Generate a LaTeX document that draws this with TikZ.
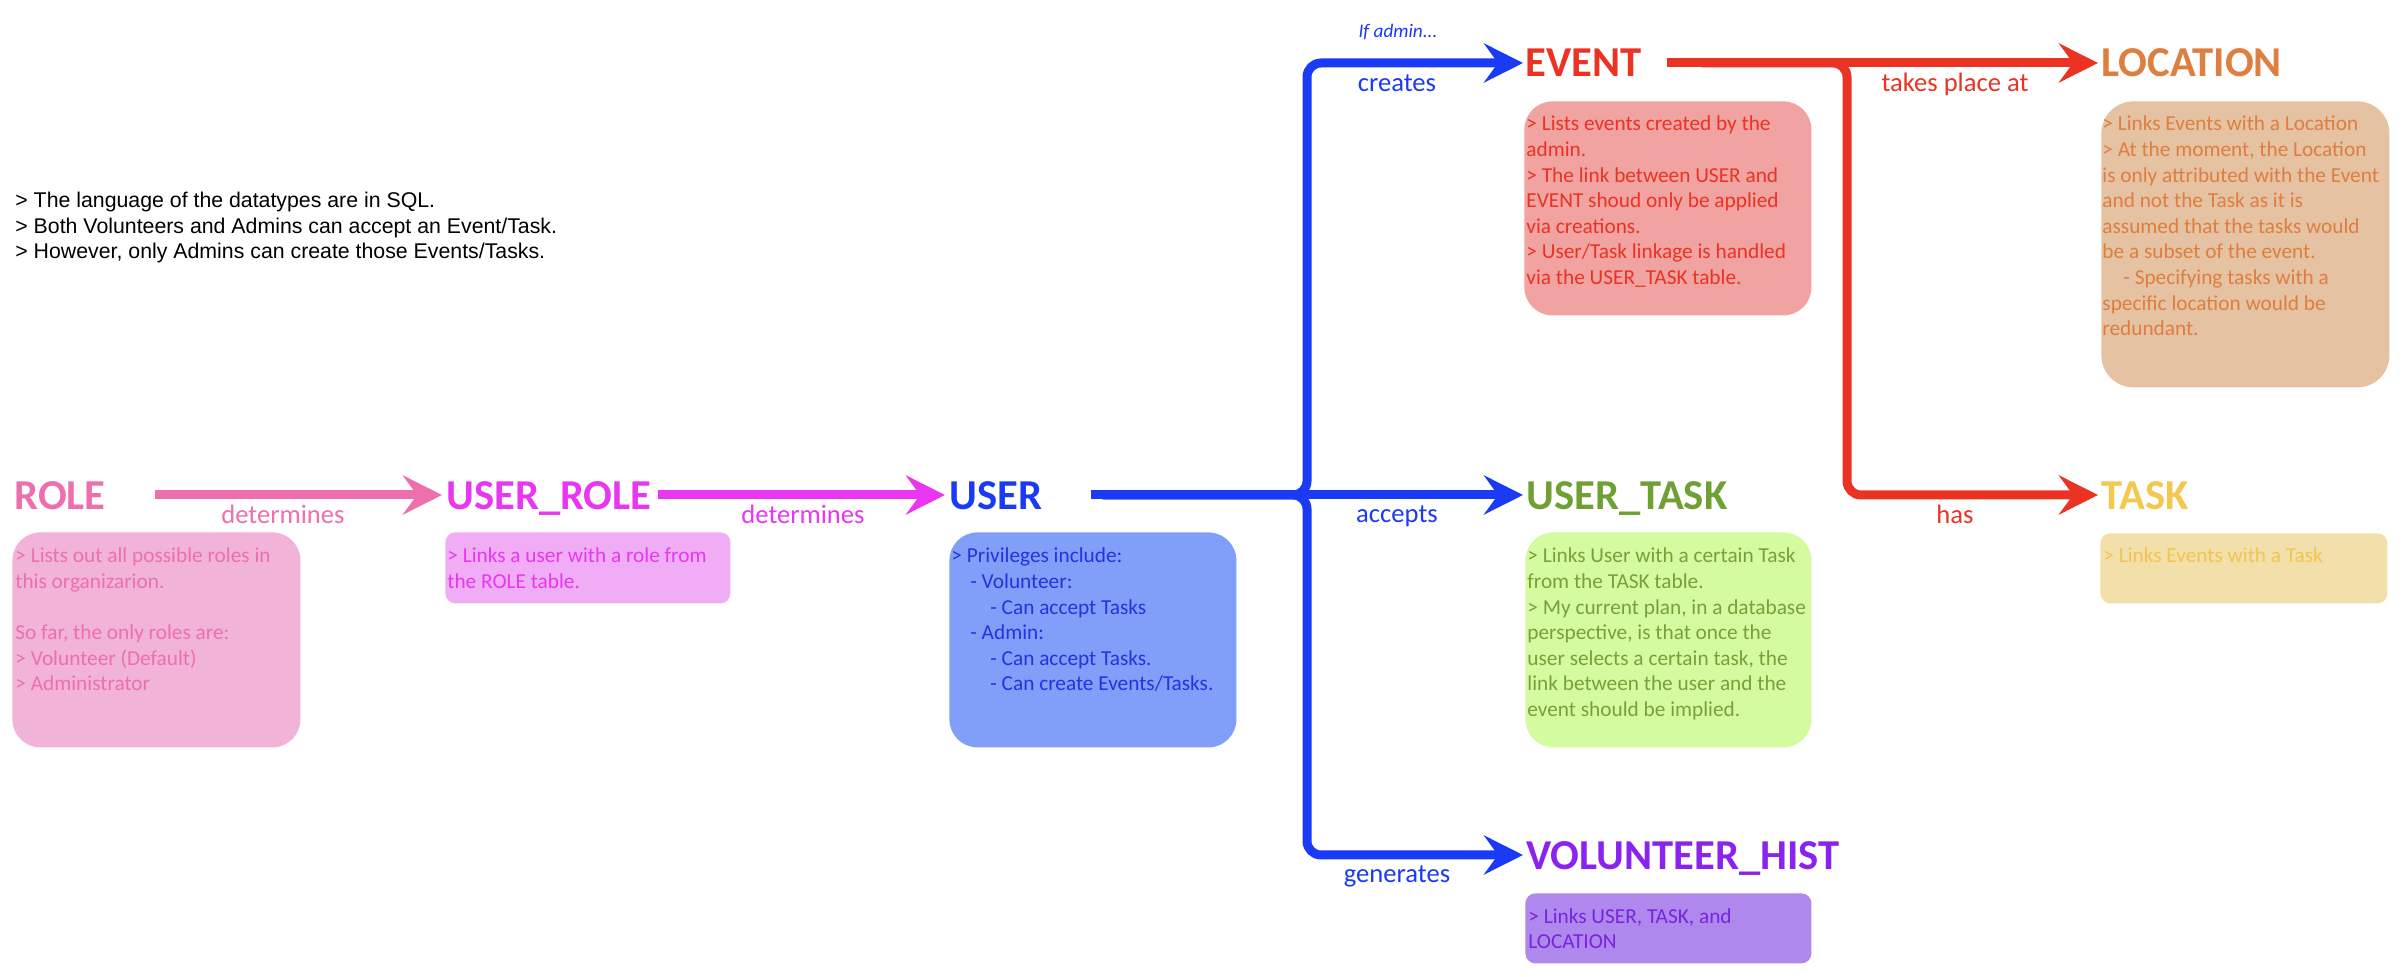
\documentclass[tikz,border=0pt]{standalone}
\usepackage{fontspec}
\setmainfont{Carlito}
\newfontfamily\arialfont{Liberation Sans}
\usetikzlibrary{arrows.meta}
\definecolor{cRole}{HTML}{EE6FAE}
\definecolor{cRoleBox}{HTML}{F2B3D8}
\definecolor{cUR}{HTML}{E936F0}
\definecolor{cURBox}{HTML}{F0ADF5}
\definecolor{cUser}{HTML}{1A3AF5}
\definecolor{cUserBox}{HTML}{819FF8}
\definecolor{cUserTxt}{HTML}{1F35E0}
\definecolor{cUT}{HTML}{6FA033}
\definecolor{cUTBox}{HTML}{D5FBA0}
\definecolor{cUTTxt}{HTML}{78A03A}
\definecolor{cEv}{HTML}{EA3323}
\definecolor{cEvBox}{HTML}{F0A3A0}
\definecolor{cLoc}{HTML}{DE7E3F}
\definecolor{cLocBox}{HTML}{E5C2A2}
\definecolor{cTask}{HTML}{F4C74E}
\definecolor{cTaskTxt}{HTML}{F1C54E}
\definecolor{cTaskBox}{HTML}{F3DFAA}
\definecolor{cVH}{HTML}{8A22F0}
\definecolor{cVHBox}{HTML}{AF88EE}
\definecolor{cVHTxt}{HTML}{7A23DD}
\newcommand{\lines}[1]{\begin{tabular}[t]{@{}l@{}}#1\end{tabular}}
\begin{document}
\begin{tikzpicture}[x=0.5pt,y=-0.5pt,
  title/.style={font=\fontsize{21.3}{25}\selectfont\bfseries, inner sep=0pt, anchor=base west},
  lab/.style={font=\fontsize{13.3}{16}\selectfont, inner sep=0pt, anchor=base},
  desc/.style={font=\fontsize{10.65}{12.8}\selectfont, inner sep=0pt, anchor=base west},
  card/.style={inner sep=0pt, anchor=north west, rounded corners=14pt},
  smallcard/.style={inner sep=0pt, anchor=north west, rounded corners=5pt},
  conn/.style={line width=4.5pt, -{Stealth[length=19.5pt,width=19.5pt,inset=7pt]}},
  branch/.style={conn, rounded corners=7pt}]
\useasboundingbox (0,0) rectangle (2405,977);
\fill[white] (0,0) rectangle (2405,977);

% cards
\node[card, fill=cRoleBox, minimum width=144pt, minimum height=107.5pt] (roleBox) at (12,532) {};
\node[smallcard, fill=cURBox, minimum width=142.5pt, minimum height=35.5pt] (urBox) at (445,532) {};
\node[card, fill=cUserBox, minimum width=143.5pt, minimum height=107.5pt] (userBox) at (949,532) {};
\node[card, fill=cUTBox, minimum width=143pt, minimum height=107.5pt] (utBox) at (1525,532) {};
\node[card, fill=cEvBox, minimum width=143.5pt, minimum height=107pt] (evBox) at (1524,101) {};
\node[card, fill=cLocBox, minimum width=144pt, minimum height=143pt, rounded corners=16pt] (locBox) at (2101,101) {};
\node[smallcard, fill=cTaskBox, minimum width=143.5pt, minimum height=35pt] (taskBox) at (2100,533) {};
\node[smallcard, fill=cVHBox, minimum width=143pt, minimum height=35pt] (vhBox) at (1525,893) {};

% titles
\node[title, text=cRole] (role) at (14,510) {ROLE};
\node[title, text=cUR] (userrole) at (446,510) {USER\_ROLE};
\node[title, text=cUser] (user) at (949,510) {USER};
\node[title, text=cUT] (usertask) at (1526,510) {USER\_TASK};
\node[title, text=cEv] (event) at (1525,77) {EVENT};
\node[title, text=cLoc] (location) at (2101,77) {LOCATION};
\node[title, text=cTask] (task) at (2101,510) {TASK};
\node[title, text=cVH] (volhist) at (1526,870) {VOLUNTEER\_HIST};

% general note
\node[font=\arialfont\fontsize{10.65}{12.75}\selectfont, inner sep=0pt, anchor=base west] (note) at (15,208)
  {\lines{> The language of the datatypes are in SQL.\\> Both Volunteers and Admins can accept an Event/Task.\\> However, only Admins can create those Events/Tasks.}};

% descriptions
\node[desc, text=cRole] (roleTxt) at (15,563)
  {\lines{> Lists out all possible roles in\\this organizarion.\\[12.8pt]So far, the only roles are:\\> Volunteer (Default)\\> Administrator}};
\node[desc, text=cUR] (urTxt) at (447,563)
  {\lines{> Links a user with a role from\\the ROLE table.}};
\node[desc, text=cUserTxt] (userTxt) at (951,563)
  {\lines{> Privileges include:\\\hspace*{9.5pt}- Volunteer:\\\hspace*{19.5pt}- Can accept Tasks\\\hspace*{9.5pt}- Admin:\\\hspace*{19.5pt}- Can accept Tasks.\\\hspace*{19.5pt}- Can create Events/Tasks.}};
\node[desc, text=cUTTxt] (utTxt) at (1527,563)
  {\lines{> Links User with a certain Task\\from the TASK table.\\> My current plan, in a database\\perspective, is that once the\\user selects a certain task, the\\link between the user and the\\event should be implied.}};
\node[desc, text=cEv] (evTxt) at (1526,131)
  {\lines{> Lists events created by the\\admin.\\> The link between USER and\\EVENT shoud only be applied\\via creations.\\> User/Task linkage is handled\\via the USER\_TASK table.}};
\node[desc, text=cLoc] (locTxt) at (2102,131)
  {\lines{> Links Events with a Location\\> At the moment, the Location\\is only attributed with the Event\\and not the Task as it is\\assumed that the tasks would\\be a subset of the event.\\\hspace*{10.5pt}- Specifying tasks with a\\specific location would be\\redundant.}};
\node[desc, text=cTaskTxt] (taskTxt) at (2103,563) {> Links Events with a Task};
\node[desc, text=cVHTxt] (vhTxt) at (1528,923) {\lines{> Links USER, TASK, and\\LOCATION}};

% connector helpers
\coordinate (bj) at (1307,495);
\coordinate (rj) at (1847,63);
\coordinate (evtip) at ([shift={(-2,-14)}]event.base west);
\coordinate (vhtip) at ([shift={(-3,-15)}]volhist.base west);
\coordinate (tktip) at ([shift={(-3,-15)}]task.base west);

% connectors
\draw[conn, cRole] ([shift={(49,-15)}]role.base east) -- ([shift={(-4,-15)}]userrole.base west);
\draw[conn, cUR] ([shift={(6,-15)}]userrole.base east) -- ([shift={(-4,-15)}]user.base west);
\draw[conn, cUser] ([shift={(48,-15)}]user.base east) -- ([shift={(-3,-15)}]usertask.base west);
\draw[branch, cUser] ([shift={(60,-15)}]user.base east) -- (bj) -- (bj |- evtip) -- (evtip);
\draw[branch, cUser] ([shift={(60,-15)}]user.base east) -- (bj) -- (bj |- vhtip) -- (vhtip);
\draw[conn, cEv] ([shift={(25,-14)}]event.base east) -- ([shift={(-3,-14)}]location.base west);
\draw[branch, cEv] ([shift={(60,-14)}]event.base east) -- (rj) -- (rj |- tktip) -- (tktip);

% labels
\node[lab, text=cRole] (lDet1) at (283,524) {determines};
\node[lab, text=cUR] (lDet2) at (803,524) {determines};
\node[lab, text=cUser] (lAcc) at (1397,523) {accepts};
\node[lab, text=cUser] (lCre) at (1397,92) {creates};
\node[lab, text=cUser] (lGen) at (1397,883) {generates};
\node[lab, text=cEv] (lTake) at (1955,92) {takes place at};
\node[lab, text=cEv] (lHas) at (1955,524) {has};
\node[font=\fontsize{9.6}{11}\selectfont\itshape, text=cUser, inner sep=0pt, anchor=base] (ifadmin) at (1398,38) {If admin...};
\end{tikzpicture}
\end{document}
